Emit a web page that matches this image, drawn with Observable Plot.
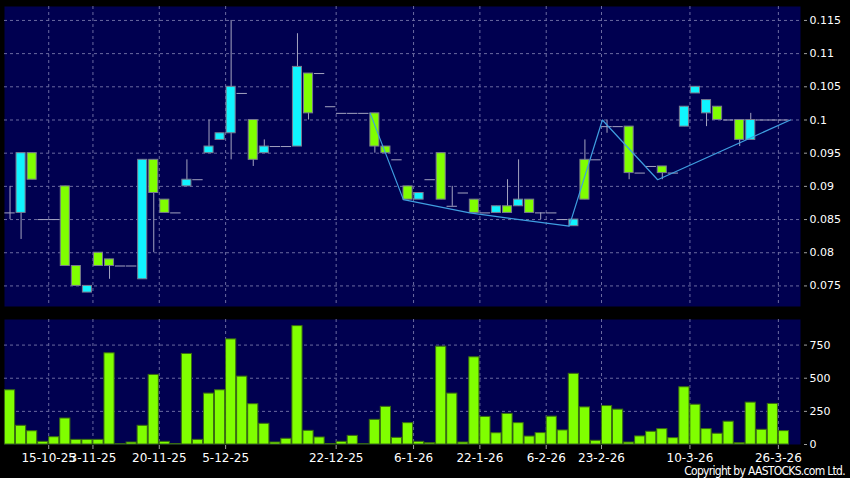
<!DOCTYPE html>
<html><head><meta charset="utf-8">
<script src="https://cdn.jsdelivr.net/npm/d3@7"></script>
<script src="https://cdn.jsdelivr.net/npm/@observablehq/plot@0.6"></script>
<style>
html,body{margin:0;padding:0;background:#000;width:850px;height:478px;overflow:hidden;}
#chart{position:relative;width:850px;height:478px;background:#000;}
#price{position:absolute;left:0;top:0;}
#vol{position:absolute;left:0;top:312px;}
#copy{position:absolute;right:5px;top:465px;color:#fff;font-family:"DejaVu Sans Condensed","DejaVu Sans",sans-serif;font-stretch:condensed;font-size:12px;line-height:12px;letter-spacing:-0.7px;white-space:nowrap;}
</style>
</head><body>
<div id="chart"><div id="price"></div><div id="vol"></div><div id="copy">Copyright by AASTOCKS.com Ltd.</div></div>
<script>
// ---- data (one entry per trading slot) ----
const opens  = [0.086,0.086,0.095,0.085,0.085,0.090,0.078,0.074,0.080,0.079,0.078,0.078,0.076,0.094,0.088,0.086,0.090,0.091,0.095,0.097,
                0.098,0.104,0.100,0.095,0.096,0.096,0.096,0.107,0.107,0.102,0.101,0.101,0.101,0.101,0.096,0.094,0.090,0.088,0.091,0.095,
                0.087,0.089,0.088,0.086,0.086,0.087,0.087,0.088,0.086,0.086,0.085,0.084,0.094,0.094,0.099,0.099,0.099,0.092,0.093,0.093,
                0.092,0.099,0.104,0.101,0.102,0.100,0.100,0.097,0.100,0.100,0.100];
const highs  = [0.090,0.095,0.095,0.085,0.085,0.090,0.078,0.075,0.080,0.079,0.078,0.078,0.094,0.094,0.088,0.086,0.094,0.091,0.100,0.098,
                0.115,0.104,0.100,0.097,0.096,0.096,0.113,0.107,0.107,0.102,0.101,0.101,0.101,0.101,0.096,0.094,0.090,0.089,0.091,0.095,
                0.090,0.089,0.088,0.086,0.087,0.091,0.094,0.088,0.086,0.086,0.085,0.085,0.097,0.094,0.100,0.099,0.099,0.092,0.093,0.093,
                0.092,0.102,0.105,0.103,0.102,0.100,0.100,0.101,0.100,0.100,0.100];
const lows   = [0.085,0.082,0.091,0.085,0.085,0.078,0.075,0.074,0.078,0.076,0.078,0.078,0.076,0.080,0.086,0.086,0.090,0.091,0.095,0.097,
                0.094,0.104,0.093,0.095,0.096,0.096,0.096,0.100,0.107,0.102,0.101,0.101,0.101,0.095,0.095,0.094,0.088,0.088,0.091,0.088,
                0.087,0.089,0.086,0.086,0.086,0.086,0.087,0.086,0.085,0.086,0.085,0.084,0.088,0.094,0.098,0.099,0.091,0.092,0.093,0.091,
                0.092,0.099,0.104,0.099,0.100,0.100,0.096,0.097,0.100,0.100,0.100];
const closes = [0.086,0.095,0.091,0.085,0.085,0.078,0.075,0.075,0.078,0.078,0.078,0.078,0.094,0.089,0.086,0.086,0.091,0.091,0.096,0.098,
                0.105,0.104,0.094,0.096,0.096,0.096,0.108,0.101,0.107,0.102,0.101,0.101,0.101,0.096,0.095,0.094,0.088,0.089,0.091,0.088,
                0.087,0.089,0.086,0.086,0.087,0.086,0.088,0.086,0.086,0.086,0.085,0.085,0.088,0.094,0.099,0.099,0.092,0.092,0.093,0.092,
                0.092,0.102,0.105,0.103,0.100,0.100,0.097,0.100,0.100,0.100,0.100];
const volumes = [409,141,100,20,55,196,35,35,35,688,2,15,141,525,20,3,683,35,384,409,
                 793,512,304,156,15,43,893,103,53,3,20,65,2,186,284,50,161,20,10,738,
                 384,15,658,208,85,231,161,60,86,210,106,533,280,28,290,263,15,61,96,116,
                 48,432,300,116,81,172,10,316,111,306,101];
const tickSlots  = [4,8,14,20,30,37,43,49,54,62,70];
const tickLabels = ["15-10-25","3-11-25","20-11-25","5-12-25","22-12-25","6-1-26","22-1-26","6-2-26","23-2-26","10-3-26","26-3-26"];
const zigzagSlots  = [33,36,42,51,54,59,71];
const zigzagValues = [0.101,0.088,0.086,0.084,0.100,0.091,0.100];
const priceTicks  = [0.075,0.08,0.085,0.09,0.095,0.1,0.105,0.11,0.115];
const volumeTicks = [0,250,500,750];

// ---- styles ----
const NAVY = "#000050", GRID = "#6a6aa0", WICK = "#a4a4c0", EDGE = "#7a7a90";
const CYAN = "#10f4ff", GREEN = "#80ff00", BAR_EDGE = "#3a6c12", ZIG = "#3f9ee0", TICK = "#a0a0a0";

const candles = opens.map((o, i) => ({i, o, h: highs[i], l: lows[i], c: closes[i], v: volumes[i]}));
const bodies = candles.filter(d => d.o !== d.c);
const dojis = candles.filter(d => d.o === d.c);
const wicks = candles.filter(d => d.h > d.l);
const zig = zigzagSlots.map((s, j) => ({s, v: zigzagValues[j]}));
const gridXs = tickSlots.map(k => k - 0.5);
const labelOf = new Map(gridXs.map((x, j) => [x, tickLabels[j]]));
const xDomain = [-0.5, 71.5];
const baseStyle = {background: "#000", color: "#fff", fontFamily: "DejaVu Sans", overflow: "visible"};
const dash = {stroke: GRID, strokeOpacity: 1, strokeDasharray: "3,3"};

const price = Plot.plot({
  width: 850, height: 312, marginTop: 6, marginBottom: 6, marginLeft: 4, marginRight: 50,
  style: {...baseStyle, fontSize: "11px"},
  x: {domain: xDomain, axis: null},
  y: {domain: [0.0719, 0.1171], label: null},
  color: {type: "identity"},
  marks: [
    Plot.frame({fill: NAVY, stroke: null}),
    Plot.gridY(priceTicks, dash),
    Plot.gridX(gridXs, dash),
    Plot.ruleX(wicks, {x: "i", y1: "l", y2: "h", stroke: WICK}),
    Plot.ruleY(dojis, {y: "o", x1: d => d.i - 0.47, x2: d => d.i + 0.47, stroke: WICK}),
    Plot.rect(bodies, {x1: d => d.i - 0.41, x2: d => d.i + 0.41, y1: "o", y2: "c",
      fill: d => d.c > d.o ? CYAN : GREEN, stroke: EDGE, strokeWidth: 1}),
    Plot.line(zig, {x: d => d.s - 0.42, y: "v", stroke: ZIG, strokeWidth: 1.2}),
    Plot.axisY(priceTicks, {anchor: "right", tickSize: 3, tickPadding: 3, dx: 3, stroke: TICK, fill: "#fff",
      fontSize: 11, tickFormat: d => String(d), label: null})
  ]
});
document.getElementById("price").appendChild(price);

const vol = Plot.plot({
  width: 850, height: 166, marginTop: 7, marginBottom: 34, marginLeft: 4, marginRight: 50,
  style: {...baseStyle, fontSize: "11px"},
  x: {domain: xDomain},
  y: {domain: [0, 943], label: null},
  marks: [
    Plot.frame({fill: NAVY, stroke: null}),
    Plot.gridY(volumeTicks.filter(v => v > 0), dash),
    Plot.gridX(gridXs, dash),
    Plot.rectY(candles, {x1: d => d.i - 0.46, x2: d => d.i + 0.46, y: "v", fill: GREEN, stroke: BAR_EDGE, strokeWidth: 1}),
    Plot.axisY(volumeTicks, {anchor: "right", tickSize: 3, tickPadding: 3, dx: 3, stroke: TICK, fill: "#fff",
      fontSize: 11, tickFormat: d => String(d), label: null}),
    Plot.axisX(gridXs, {anchor: "bottom", tickSize: 4, tickPadding: 4, dy: 1, stroke: TICK, fill: "#fff",
      fontSize: 12, tickFormat: d => labelOf.get(d), label: null})
  ]
});
document.getElementById("vol").appendChild(vol);
</script>
</body></html>
